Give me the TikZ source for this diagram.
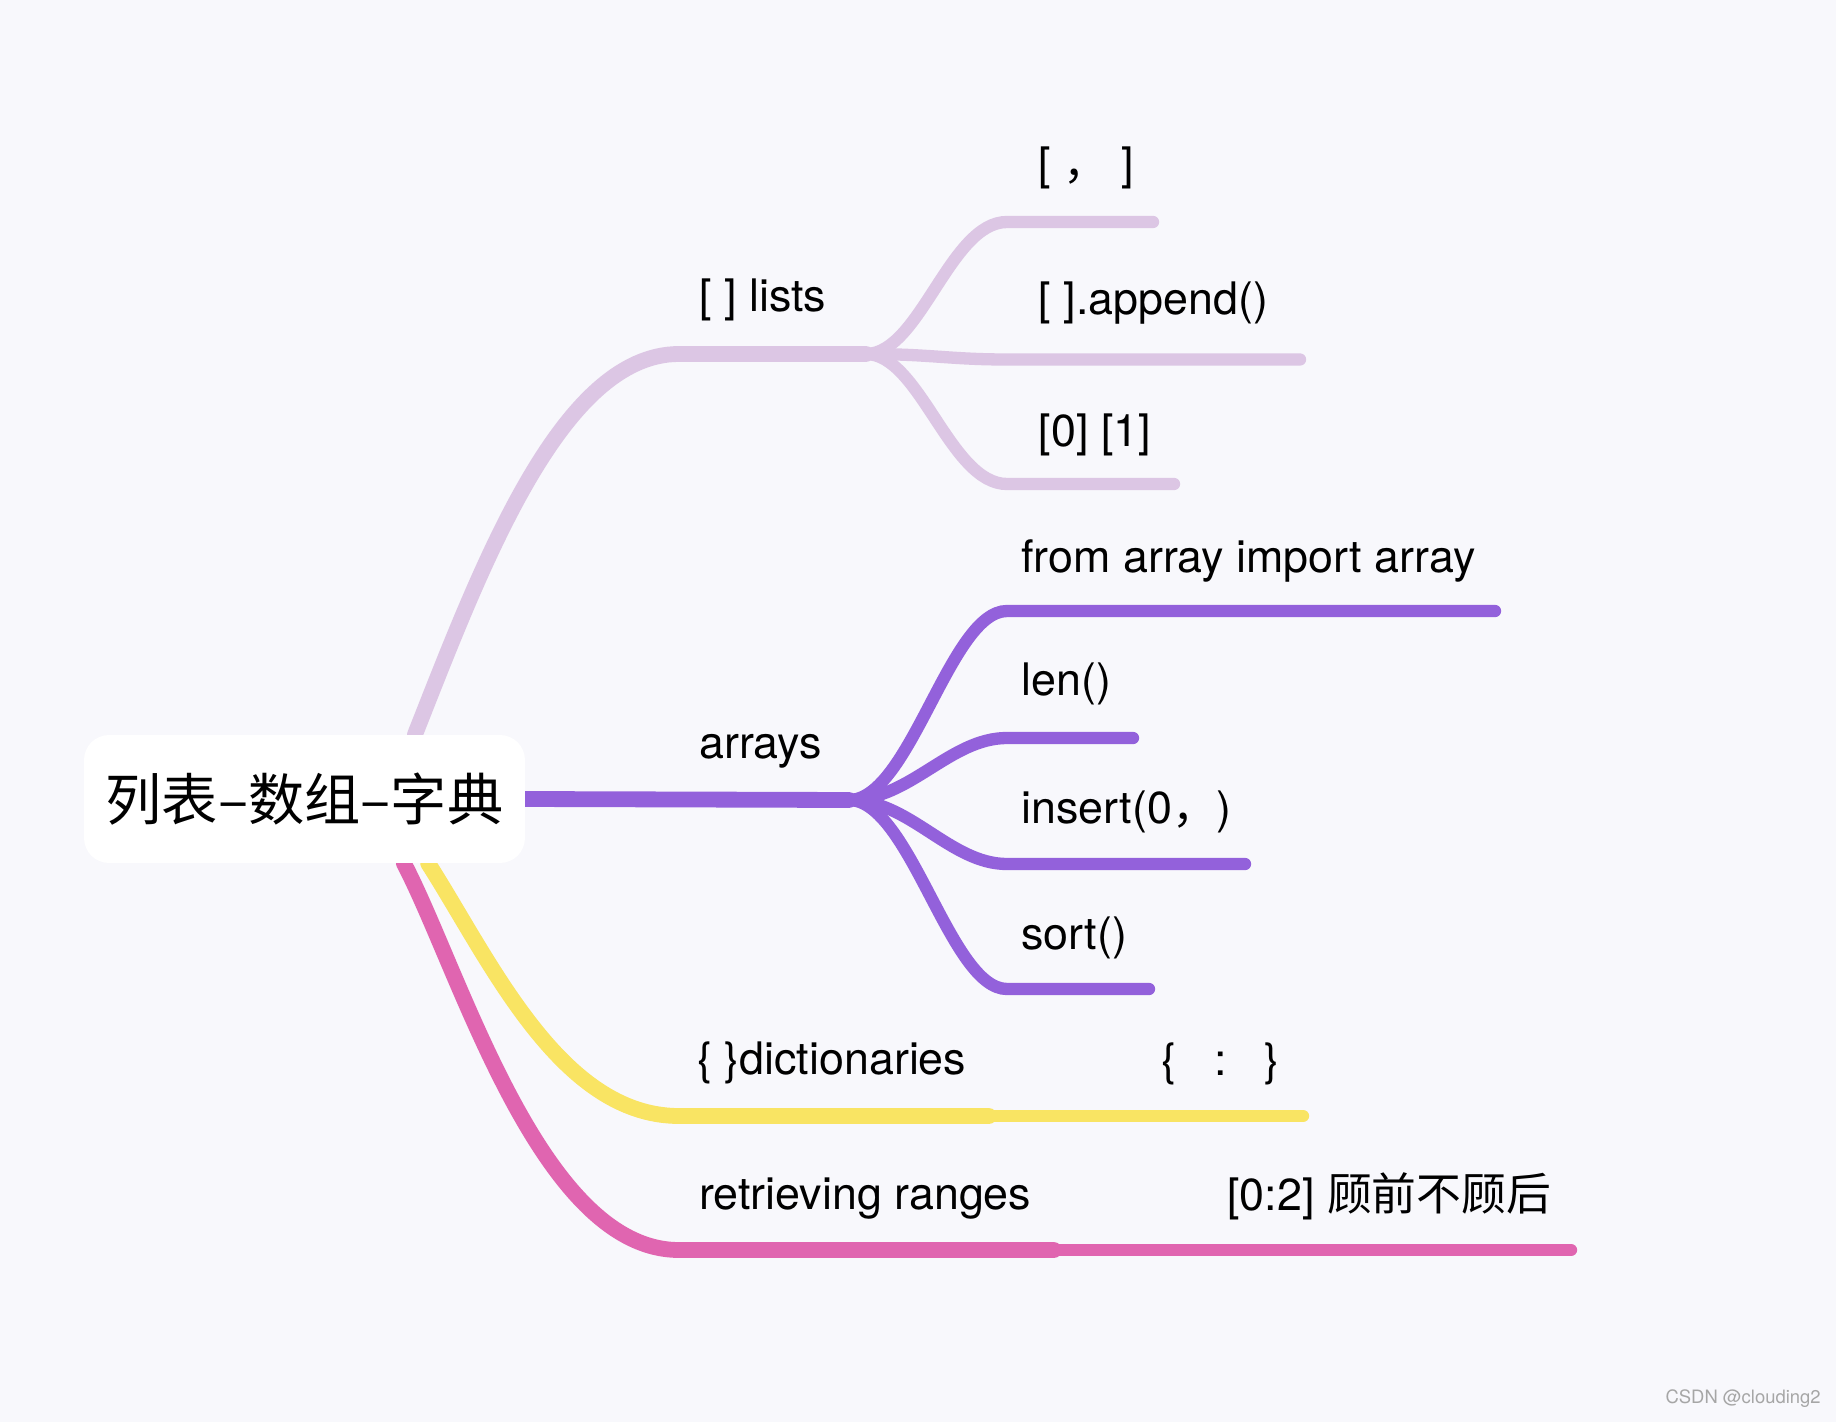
\documentclass[tikz,border=0pt]{standalone}
\usepackage{fontspec}
\setmainfont{TeX Gyre Heros}
\newfontfamily\cjk{Noto Sans CJK SC}
\usetikzlibrary{calc,positioning}
\definecolor{bgcol}{HTML}{F8F8FC}
\definecolor{listcol}{HTML}{DCC6E4}
\definecolor{arraycol}{HTML}{9361DB}
\definecolor{dictcol}{HTML}{F9E463}
\definecolor{rangecol}{HTML}{E065B0}
\pgfdeclarelayer{bgl}
\pgfdeclarelayer{behind}
\pgfsetlayers{bgl,behind,main}
\tikzset{
    thickbranch/.style={line width=9pt, line cap=round},
    thinbranch/.style={line width=7pt, line cap=round},
    lbl/.style={anchor=west, inner sep=0pt, text=black, font=\fontsize{25.5}{30}\selectfont},
    rootbox/.style={fill=white, rounded corners=0.5cm, minimum width=8.82cm,
        minimum height=2.56cm, inner sep=0pt, font=\cjk\fontsize{32}{38}\selectfont}
}

\begin{document}
\begin{tikzpicture}[x=0.02cm, y=-0.02cm]

\begin{pgfonlayer}{bgl}
\fill[bgcol] (0,0) rectangle (1836,1422);
\end{pgfonlayer}

% ---- root ----
\node[rootbox] (root) at (304.5,799) {列表–数组–字典};

\coordinate (Lstart) at ($(root.north west)!0.75!(root.north east)$);
\coordinate (Dstart) at ($(root.south west)!0.78!(root.south east)$);
\coordinate (Rstart) at ($(root.south west)!0.725!(root.south east)$);

% ---- hubs and ends ----
\coordinate (Lhub) at (866,354);
\coordinate (L1) at (1153,222);
\coordinate (L2) at (1300,359.5);
\coordinate (L3) at (1174,484);
\coordinate (Ahub) at (849,800);
\coordinate (A1) at (1495,611);
\coordinate (A2) at (1133,738);
\coordinate (A3) at (1245,864);
\coordinate (A4) at (1149,989);
\coordinate (Dmid) at (989,1116);
\coordinate (D1) at (1303,1116);
\coordinate (Rmid) at (1054,1250);
\coordinate (R1) at (1571,1250);

% ---- labels ----
\node[lbl] (Llab) at (699,300) {[ ] lists};
\node[lbl] (L1lab) at (1038.6,168) {[ {\cjk ，} ]};
\node[lbl] (L2lab) at (1038.6,303) {[ ].append()};
\node[lbl] (L3lab) at (1038.6,435) {[0] [1]};
\node[lbl] (Alab) at (699,751) {arrays};
\node[lbl] (A1lab) at (1021,561) {from array import array};
\node[lbl] (A2lab) at (1021,684) {len()};
\node[lbl] (A3lab) at (1021,812) {insert(0{\cjk ，})};
\node[lbl] (A4lab) at (1021,938) {sort()};
\node[lbl] (Dlab) at (697,1063) {\{ \}dictionaries};
\node[lbl] (D1lab) at (1161.6,1064) {\{\ \ \ :\ \ \ \}};
\node[lbl] (Rlab) at (699,1199) {retrieving ranges};
\node[lbl] (R1lab) at (1227,1196) {[0:2] {\cjk 顾前不顾后}};
\node[anchor=east, inner sep=0pt, text=black!35, font=\fontsize{10.5}{12}\selectfont]
    (wm) at (1821,1399) {CSDN @clouding2};

% ---- branches ----
\begin{pgfonlayer}{behind}
\draw[thickbranch, listcol] (Lstart) .. controls (480,570) and (560,354) .. (679,354) -- (Lhub);
\draw[thinbranch, listcol] (Lhub) .. controls (920,354) and (950,222) .. (1007,222) -- (L1);
\draw[thinbranch, listcol] (Lhub) .. controls (930,354) and (950,359.5) .. (1007,359.5) -- (L2);
\draw[thinbranch, listcol] (Lhub) .. controls (920,354) and (950,484) .. (1007,484) -- (L3);

\draw[thickbranch, arraycol] (root.east) -- (Ahub);
\draw[thinbranch, arraycol] (Ahub) .. controls (910,800) and (950,611) .. (1007,611) -- (A1);
\draw[thinbranch, arraycol] (Ahub) .. controls (910,800) and (950,738) .. (1007,738) -- (A2);
\draw[thinbranch, arraycol] (Ahub) .. controls (910,800) and (950,864) .. (1007,864) -- (A3);
\draw[thinbranch, arraycol] (Ahub) .. controls (910,800) and (950,989) .. (1007,989) -- (A4);

\draw[thickbranch, rangecol] (Rstart) .. controls (460,970) and (540,1250) .. (679,1250) -- (Rmid);
\draw[thinbranch, rangecol] (Rmid) -- (R1);
\draw[thickbranch, dictcol] (Dstart) .. controls (490,960) and (560,1116) .. (679,1116) -- (Dmid);
\draw[thinbranch, dictcol] (Dmid) -- (D1);
\end{pgfonlayer}

\end{tikzpicture}
\end{document}
